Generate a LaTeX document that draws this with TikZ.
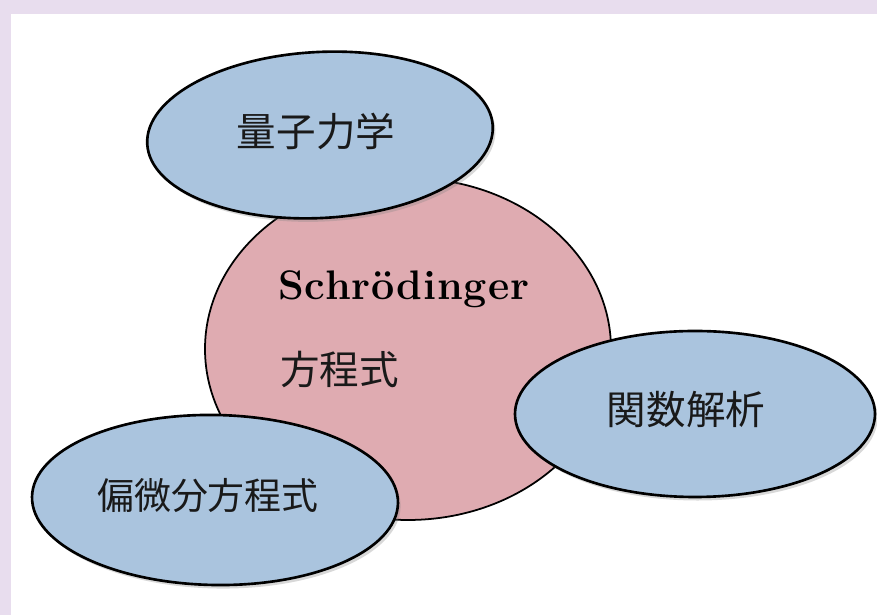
\documentclass[tikz,border=0pt]{standalone}
\usepackage{fontspec}
\newfontfamily\jpfont{Noto Sans CJK JP}
\newfontfamily\namefont{Latin Modern Roman}[LetterSpace=2]
\usepackage{tikz}
\usetikzlibrary{shapes.geometric,shadows}
\definecolor{BgLavender}{HTML}{E8DDEE}
\definecolor{TopicBlue}{HTML}{AAC4DE}
\definecolor{CoreRose}{HTML}{DFABB1}
\tikzset{
  core/.style={ellipse, draw=black, line width=1pt, fill=CoreRose, inner sep=0pt},
  topic/.style={ellipse, draw=black, line width=1.5pt, fill=TopicBlue, inner sep=0pt,
    drop shadow={shadow xshift=1.5pt, shadow yshift=-2pt, opacity=0.3}},
  jptext/.style={black!90, font=\jpfont\fontsize{22.5}{26}\selectfont, inner sep=0pt},
  entext/.style={black, font=\namefont\bfseries\fontsize{23.5}{28}\selectfont, inner sep=0pt}
}

\begin{document}
\begin{tikzpicture}
  % Page and white panel
  \fill[BgLavender] (0,0) rectangle (17.54,12.3);
  \fill[white] (0.22,0) rectangle (17.54,12.02);
  \useasboundingbox (0,0) rectangle (17.54,12.3);

  % Central ellipse
  \node[core, minimum width=8.12cm, minimum height=6.84cm] (se) at (8.16,5.32) {};
  \node[entext, anchor=base west] (seName) at (5.56,6.3) {Schrödinger};
  \node[jptext, anchor=west] (seEq) at (5.6,4.9) {方程式};

  % Topics around it
  \node[topic, minimum width=6.92cm, minimum height=3.32cm, rotate=3] (qm) at (6.4,9.6) {};
  \node[jptext] (qmText) at (6.32,9.68) {量子力学};

  \node[topic, minimum width=7.2cm, minimum height=3.32cm] (fa) at (13.9,4.02) {};
  \node[jptext] (faText) at (13.72,4.1) {関数解析};

  \node[topic, minimum width=7.32cm, minimum height=3.4cm, rotate=-1] (pde) at (4.3,2.3) {};
  \node[jptext, font=\jpfont\fontsize{21}{24}\selectfont] (pdeText) at (4.16,2.38) {偏微分方程式};
\end{tikzpicture}
\end{document}
